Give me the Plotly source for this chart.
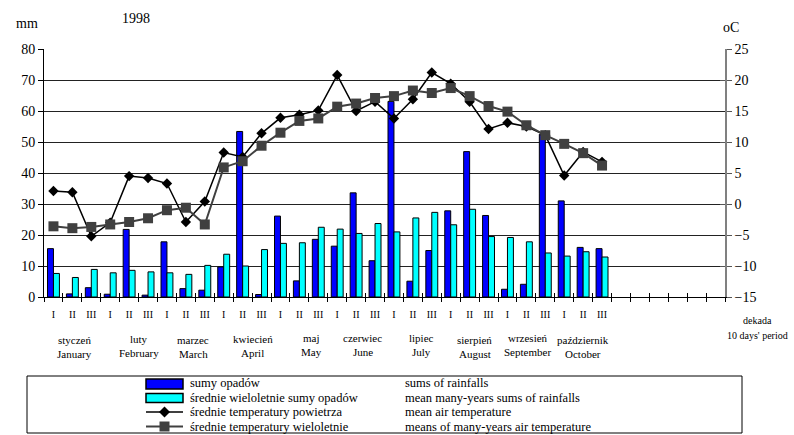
import plotly.graph_objects as go

# ten-day periods (dekady) of 1998, January - October
decades = ["I", "II", "III"] * 10
months_pl = ["styczeń", "luty", "marzec", "kwiecień", "maj", "czerwiec",
             "lipiec", "sierpień", "wrzesień", "październik"]
months_en = ["January", "February", "March", "April", "May", "June",
             "July", "August", "September", "October"]
n_slots = 36  # axis spans the whole year (36 decades)

# sums of rainfall [mm]
rain = [15.6, 1.0, 3.0, 0.9, 21.8, 0.6, 17.8, 2.7, 2.2,
        9.7, 53.4, 0.8, 26.1, 5.2, 18.6, 16.4, 33.6, 11.7,
        63.1, 5.1, 15.0, 27.8, 46.9, 26.3, 2.5, 4.1, 52.5,
        31.0, 16.0, 15.6]
# mean many-years sums of rainfall [mm]
rain_norm = [7.6, 6.3, 8.9, 7.8, 8.6, 8.1, 7.8, 7.3, 10.2,
             13.8, 10.0, 15.3, 17.3, 17.5, 22.5, 21.9, 20.5, 23.7,
             21.0, 25.5, 27.3, 23.3, 28.3, 19.5, 19.2, 17.8, 14.2,
             13.2, 14.6, 12.9]
# mean air temperature [oC]
temp = [2.1, 1.9, -5.2, -3.0, 4.5, 4.2, 3.3, -2.9, 0.4,
        8.3, 7.6, 11.4, 13.9, 14.4, 15.1, 20.8, 15.0, 16.5,
        13.8, 16.9, 21.2, 19.4, 16.5, 12.1, 13.1, 12.5, 11.1,
        4.6, 8.4, 6.8]
# means of many-years air temperature [oC]
temp_norm = [-3.6, -3.9, -3.7, -3.3, -2.9, -2.3, -1.0, -0.6, -3.3,
             5.9, 6.9, 9.4, 11.5, 13.4, 13.8, 15.7, 16.2, 17.1,
             17.4, 18.3, 17.9, 18.7, 17.4, 15.8, 14.9, 12.7, 11.1,
             9.7, 8.2, 6.2]

idx = list(range(len(rain)))
bounds = [i - 0.5 for i in range(n_slots + 1)]

FONT = "Liberation Serif"
W, H = 794, 435
L, R, T, B = 44, 69, 49, 138


def px(x):
    return (x - L) / (W - L - R)


def py(y):
    return (H - B - y) / (H - T - B)


fig = go.Figure()
fig.add_trace(go.Bar(x=idx, y=rain, marker=dict(color="#0000FF", line=dict(color="black", width=1)),
                     xaxis="x", yaxis="y", showlegend=False))
fig.add_trace(go.Bar(x=idx, y=rain_norm, marker=dict(color="#00FFFF", line=dict(color="black", width=1)),
                     xaxis="x", yaxis="y", showlegend=False))
fig.add_trace(go.Scatter(x=idx, y=temp, mode="lines+markers", xaxis="x2", yaxis="y2",
                         line=dict(color="black", width=1.5),
                         marker=dict(symbol="diamond", size=8, color="black"), showlegend=False))
fig.add_trace(go.Scatter(x=idx, y=temp_norm, mode="lines+markers", xaxis="x2", yaxis="y3",
                         line=dict(color="#404040", width=2),
                         marker=dict(symbol="square", size=10, color="#404040"), showlegend=False))

fig.update_layout(
    width=W, height=H,
    margin=dict(l=L, r=R, t=T, b=B),
    paper_bgcolor="white", plot_bgcolor="white",
    font=dict(family=FONT, color="black"),
    barmode="group", bargap=0.37, bargroupgap=0,
    xaxis=dict(range=[-0.5, n_slots - 0.5], tickmode="array", tickvals=idx, ticktext=decades,
               ticks="", showline=True, linecolor="black", linewidth=1, showgrid=False,
               zeroline=False, tickfont=dict(size=10, family=FONT), ticklabelstandoff=8,
               minor=dict(tickmode="array", tickvals=bounds, ticks="outside", ticklen=4,
                          tickcolor="black", tickwidth=1, showgrid=False)),
    xaxis2=dict(overlaying="x", matches="x", anchor="y", tickmode="array", tickvals=bounds,
                ticks="inside", ticklen=4, tickcolor="black", showticklabels=False,
                showgrid=False, showline=False, zeroline=False),
    yaxis=dict(range=[0, 80], tick0=0, dtick=10, ticks="outside", ticklen=5, tickcolor="black",
               showline=True, linecolor="black", linewidth=1, showgrid=True,
               gridcolor="#222222", gridwidth=1, zeroline=False, tickfont=dict(size=14)),
    yaxis2=dict(overlaying="y", side="right", anchor="x", range=[-15, 25], tick0=-15, dtick=5,
                ticks="outside", ticklen=5, tickcolor="#555555", showline=True, linecolor="#808080",
                linewidth=1.5, showgrid=False, zeroline=False, tickfont=dict(size=14)),
    yaxis3=dict(overlaying="y", side="right", anchor="x", matches="y2", ticks="inside", ticklen=5,
                tickcolor="#555555", showticklabels=False, showgrid=False, showline=False,
                zeroline=False),
)

ann = []


def text(x, y, s, size, anchor="center"):
    ann.append(dict(x=px(x), y=py(y), xref="paper", yref="paper", text=s, showarrow=False,
                    xanchor=anchor, yanchor="middle", font=dict(size=size, family=FONT, color="black")))


text(136, 18, "1998", 14)
text(27, 23, "mm", 14)
text(731, 27, "oC", 14)
text(757, 320, "dekada", 10)
text(757, 335, "10 days' period", 10)

# month names under the middle decade of each month
month_dx = [2.6, 9.4, 7.2, 10.3, 12.3, 6.6, 8.7, 5.3, 1.6, 0.0]
month_dy = [0.5, 0, 1, -0.5, -1.5, -1.5, -1.5, 0.5, -1.5, 0.5]
for k, (pl, en) in enumerate(zip(months_pl, months_en)):
    for s, y0 in ((pl, 339), (en, 353)):
        ann.append(dict(x=3 * k + 1, xref="x", xshift=month_dx[k], y=py(y0 + month_dy[k]),
                        yref="paper", text=s, showarrow=False, xanchor="center", yanchor="middle",
                        font=dict(size=11, family=FONT, color="black")))

# legend box
rows = [383, 397.5, 412, 426.5]
leg_pl = ["sumy opadów", "średnie wieloletnie sumy opadów",
          "średnie temperatury powietrza", "średnie temperatury wieloletnie"]
leg_en = ["sums of rainfalls", "mean many-years sums of rainfalls",
          "mean air temperature", "means of many-years air temperature"]
for yy, a, b in zip(rows, leg_pl, leg_en):
    text(188, yy, a, 12.5, "left")
    text(403, yy, b, 12.5, "left")

shapes = [
    dict(type="rect", xref="paper", yref="paper", x0=px(27), x1=px(742), y0=py(376), y1=py(433),
         line=dict(color="black", width=1), fillcolor="rgba(0,0,0,0)"),
    dict(type="rect", xref="paper", yref="paper", x0=px(146), x1=px(183), y0=py(379), y1=py(389),
         line=dict(color="black", width=1.5), fillcolor="#0000FF"),
    dict(type="rect", xref="paper", yref="paper", x0=px(146), x1=px(183), y0=py(393.5), y1=py(402.5),
         line=dict(color="black", width=1.5), fillcolor="#00FFFF"),
    dict(type="line", xref="paper", yref="paper", x0=px(146), x1=px(183), y0=py(412), y1=py(412),
         line=dict(color="black", width=1.5)),
    dict(type="path", xref="paper", yref="paper",
         path="M{},{} L{},{} L{},{} L{},{} Z".format(px(164.5), py(406.5), px(170), py(412),
                                                    px(164.5), py(417.5), px(159), py(412)),
         line=dict(color="black", width=0), fillcolor="black"),
    dict(type="line", xref="paper", yref="paper", x0=px(146), x1=px(183), y0=py(426.5), y1=py(426.5),
         line=dict(color="#404040", width=2)),
    dict(type="rect", xref="paper", yref="paper", x0=px(159.5), x1=px(169.5), y0=py(421.5), y1=py(431.5),
         line=dict(color="#404040", width=0), fillcolor="#404040"),
]

fig.update_layout(annotations=ann, shapes=shapes)
fig.write_html("out.html")
